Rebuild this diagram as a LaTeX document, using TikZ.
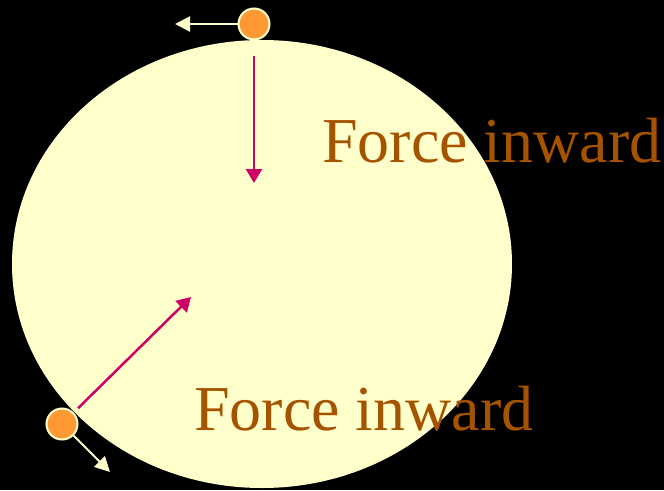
\documentclass[tikz,border=0pt]{standalone}
\usepackage{fontspec}
\setmainfont{Liberation Serif}
\usetikzlibrary{arrows.meta,positioning}
\definecolor{pale}{RGB}{255,255,204}
\definecolor{ballorange}{RGB}{255,153,51}
\definecolor{pull}{RGB}{204,0,102}
\definecolor{labelbrown}{RGB}{166,83,0}

\begin{document}
\begin{tikzpicture}[x=1pt,y=-1pt,
   ball/.style={circle,draw=pale,fill=ballorange,line width=2pt,minimum size=31pt,inner sep=0pt},
   vel/.style={-{Triangle[length=15pt,width=15pt]},draw=pale,line width=2pt},
   pull/.style={-{Triangle[length=14pt,width=16pt]},draw=pull,line width=2.5pt},
   tag/.style={text=labelbrown,font=\fontsize{64}{70}\selectfont,inner sep=0pt,anchor=base west}]
  % background and the path
  \fill[black] (0,0) rectangle (664,490);
  \useasboundingbox (0,0) rectangle (664,490);
  \fill[pale] (262,264) ellipse [x radius=250pt,y radius=224pt];
  % the two positions of the body
  \node[ball] (top) at (254,24) {};
  \node[ball] (low) at (62,424) {};
  % tips of the arrows
  \coordinate (topv) at (175,24);
  \coordinate (lowv) at (110,472);
  \coordinate (topf) at (254,183);
  \coordinate (lowf) at (191,297);
  % velocity arrows
  \draw[vel] (top) -- (topv);
  \draw[vel] (low) -- (lowv);
  % force arrows
  \draw[pull,shorten <=15pt] (top) -- (topf);
  \draw[pull,shorten <=6pt] (low) -- (lowf);
  % labels
  \node[tag] (ftop) at (322,162) {Force inward};
  \node[tag] (flow) at (194,430) {Force inward};
\end{tikzpicture}
\end{document}
